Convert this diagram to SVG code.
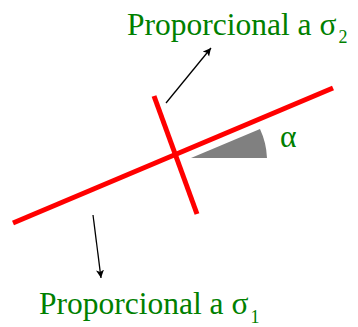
<svg xmlns="http://www.w3.org/2000/svg" width="358" height="327" viewBox="0 0 358 327">
<style>
.red{stroke:#ff0000;stroke-width:5;fill:none}
.arr{stroke:#000;stroke-width:1.3;fill:none;marker-end:url(#ah)}
.lbl{font-family:"Liberation Serif",serif;fill:#008000;font-size:31.5px}
.sub{font-size:18px}
</style>
<defs>
<marker id="ah" markerWidth="10" markerHeight="10" refX="8" refY="4" orient="auto" markerUnits="userSpaceOnUse">
<path d="M0,0 L8,4 L0,8 L2,4 Z" fill="#000"/>
</marker>
</defs>
<rect width="358" height="327" fill="#fff"/>
<g id="plane">
<line class="red" x1="13" y1="223" x2="333" y2="88"/>
<line class="red" x1="154" y1="96" x2="197" y2="214"/>
</g>
<g id="angle">
<path d="M191,158 L260,129 A76,76 0 0 1 267,158 Z" fill="#808080"/>
<text class="lbl" x="280" y="147">α</text>
</g>
<g id="connectors">
<line class="arr" x1="166" y1="103" x2="211" y2="48"/>
<line class="arr" x1="93" y1="215" x2="101" y2="278"/>
</g>
<g id="label-sigma2">
<text class="lbl" x="127" y="35">Proporcional a σ<tspan class="sub" dx="2" dy="8">2</tspan></text>
</g>
<g id="label-sigma1">
<text class="lbl" x="39" y="314">Proporcional a σ<tspan class="sub" dx="2" dy="9">1</tspan></text>
</g>
</svg>
